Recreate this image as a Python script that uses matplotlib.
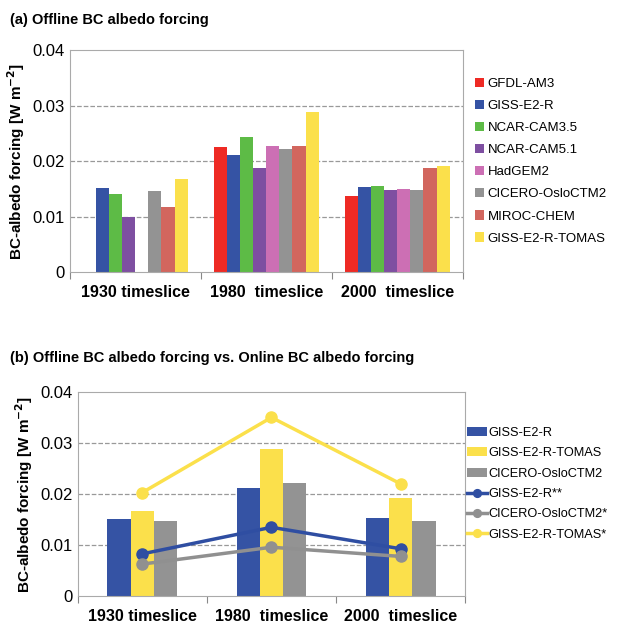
import matplotlib.pyplot as plt
import numpy as np

plt.rcParams['font.family'] = ['Liberation Sans', 'DejaVu Sans']

slices = ['1930 timeslice', '1980  timeslice', '2000  timeslice']

# (a) offline forcing, one list per model (1930, 1980, 2000); nan = no bar
models = ['GFDL-AM3', 'GISS-E2-R', 'NCAR-CAM3.5', 'NCAR-CAM5.1', 'HadGEM2',
          'CICERO-OsloCTM2', 'MIROC-CHEM', 'GISS-E2-R-TOMAS']
offline = [
    [np.nan, 0.0226, 0.0137],
    [0.0152, 0.0211, 0.0153],
    [0.0140, 0.0244, 0.0156],
    [0.0100, 0.0188, 0.0148],
    [np.nan, 0.0228, 0.0149],
    [0.0147, 0.0221, 0.0148],
    [0.0117, 0.0227, 0.0187],
    [0.0167, 0.0289, 0.0192],
]
colors_a = ['#ee2a24', '#3553a4', '#5dbb46', '#7e4fa1', '#cc6fb4',
            '#939393', '#d2665e', '#fbe04b']

# (b) offline bars vs online lines
bar_models = ['GISS-E2-R', 'GISS-E2-R-TOMAS', 'CICERO-OsloCTM2']
bar_vals = [[0.0152, 0.0211, 0.0153],
            [0.0167, 0.0289, 0.0192],
            [0.0147, 0.0221, 0.0148]]
bar_colors = ['#3553a4', '#fbe04b', '#939393']
line_models = ['GISS-E2-R**', 'CICERO-OsloCTM2*', 'GISS-E2-R-TOMAS*']
line_vals = [[0.0083, 0.0135, 0.0093],
             [0.0063, 0.0096, 0.0078],
             [0.0203, 0.0350, 0.0220]]
line_colors = ['#2f4ea2', '#909090', '#fbe04b']

x = np.arange(len(slices))


def style(ax):
    ax.set_ylim(0, 0.04)
    ax.set_yticks([0, 0.01, 0.02, 0.03, 0.04])
    ax.set_yticklabels(['0', '0.01', '0.02', '0.03', '0.04'], fontsize=12)
    ax.set_xlim(-0.5, 2.5)
    ax.set_xticks([-0.5, 0.5, 1.5, 2.5])
    ax.set_xticklabels([])
    ax.set_xticks(x, minor=True)
    ax.set_xticklabels(slices, minor=True, fontsize=11.5, fontweight='bold')
    ax.tick_params(axis='x', which='minor', length=0, pad=9)
    ax.tick_params(axis='x', which='major', length=5, color='#888888')
    ax.tick_params(axis='y', length=0)
    for yv in [0.01, 0.02, 0.03]:
        ax.axhline(yv, color='#999999', linestyle='--', linewidth=0.9, zorder=0)
    for s in ax.spines.values():
        s.set_color('#aaaaaa')
    ax.set_ylabel('BC-albedo forcing [W m$^{\\mathbf{-2}}$]', fontsize=11, fontweight='bold')


fig = plt.figure(figsize=(6.17, 6.27), dpi=100)
ax1 = fig.add_axes([0.113, 0.566, 0.637, 0.354])
ax2 = fig.add_axes([0.126, 0.049, 0.628, 0.326])

w = 0.1
for i, (m, vals) in enumerate(zip(models, offline)):
    ax1.bar(x + (i - 3.5) * w, vals, w, color=colors_a[i], label=m, zorder=2)
style(ax1)
ax1.legend(loc='center left', bbox_to_anchor=(1.0, 0.5), frameon=False,
           fontsize=9.5, handlelength=0.7, handleheight=0.7, handletextpad=0.3,
           labelspacing=0.75)

wb = 0.18
handles = []
for i, (m, vals) in enumerate(zip(bar_models, bar_vals)):
    handles.append(ax2.bar(x + (i - 1) * wb, vals, wb, color=bar_colors[i], label=m, zorder=2))
for m, vals, c in zip(line_models, line_vals, line_colors):
    handles.append(ax2.plot(x, vals, color=c, marker='o', markersize=8, linewidth=2.5,
                            label=m, zorder=3)[0])
style(ax2)
ax2.legend(handles=handles, loc='center left', bbox_to_anchor=(0.975, 0.55), frameon=False,
           fontsize=9.2, handlelength=1.6, handletextpad=0.1, labelspacing=0.65,
           markerscale=0.7)

fig.text(0.016, 0.962, '(a) Offline BC albedo forcing', fontsize=10.5, fontweight='bold')
fig.text(0.016, 0.422, '(b) Offline BC albedo forcing vs. Online BC albedo forcing',
         fontsize=10.5, fontweight='bold')

fig.savefig('out.png', dpi=100)
